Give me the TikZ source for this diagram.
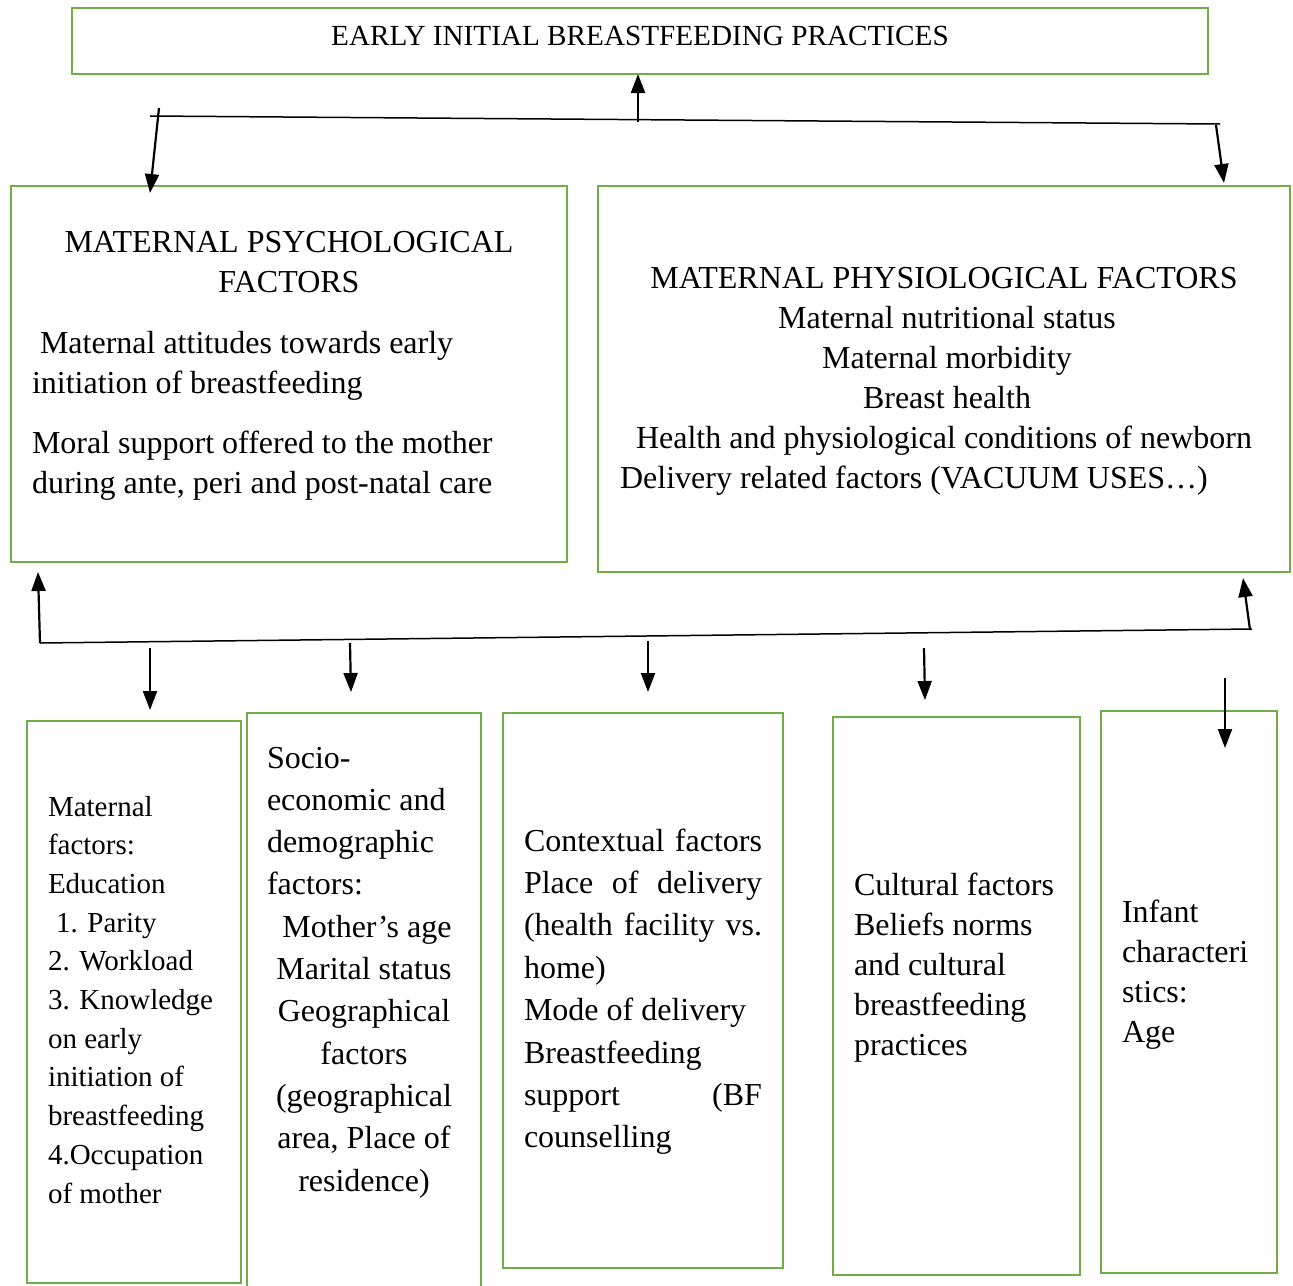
\documentclass[tikz,border=0pt]{standalone}
\usepackage{fontspec}
\setmainfont{Liberation Serif}
\usetikzlibrary{arrows.meta}
\definecolor{boxgreen}{RGB}{112,173,71}
\begin{document}
\begin{tikzpicture}[x=1pt,y=-1pt,
  box/.style={draw=boxgreen,line width=2.8pt,rectangle,inner sep=0pt,outer sep=0pt},
  txt/.style={anchor=base west,inner sep=0pt,outer sep=0pt},
  arr/.style={line width=2.2pt,-{Triangle[length=19pt,width=14pt]}},
  bar/.style={line width=1.5pt}]
\clip (0,0) rectangle (1293,1285);
\fill[white] (0,0) rectangle (1293,1285);

% boxes
\node[box,minimum width=1136pt,minimum height=66pt] (top) at (640,41) {};
\node[box,minimum width=556pt,minimum height=376pt] (psych) at (289,374) {};
\node[box,minimum width=692pt,minimum height=386pt] (physio) at (944,379) {};
\node[box,minimum width=214pt,minimum height=562pt] (b1) at (134,1002) {};
\node[box,minimum width=234pt,minimum height=579pt] (b2) at (364,1002.5) {};
\node[box,minimum width=280pt,minimum height=555pt] (b3) at (643,990.5) {};
\node[box,minimum width=247pt,minimum height=558pt] (b4) at (956.5,996) {};
\node[box,minimum width=176pt,minimum height=562pt] (b5) at (1189,992) {};

% texts
\node[anchor=base,inner sep=0pt] (ttop) at (640,45.5) {\fontsize{29.2}{35}\selectfont EARLY INITIAL BREASTFEEDING PRACTICES};

\node[txt] (tpsych) at (32,252) {\parbox[t]{514pt}{\fontsize{32}{40}\selectfont\raggedright
\makebox[\linewidth]{MATERNAL PSYCHOLOGICAL}\\
\makebox[\linewidth]{FACTORS}\\[21pt]
\hspace*{8pt}Maternal attitudes towards early\\
initiation of breastfeeding\\[20pt]
Moral support offered to the mother\\
during ante, peri and post-natal care}};

\node[txt] (tphysio) at (598,288) {\parbox[t]{692pt}{\fontsize{32}{40}\selectfont\raggedright
\makebox[\linewidth]{MATERNAL PHYSIOLOGICAL FACTORS}\\
\makebox[\linewidth]{Maternal nutritional status\hspace*{-6pt}}\\
\makebox[\linewidth]{Maternal morbidity\hspace*{-6pt}}\\
\makebox[\linewidth]{Breast health\hspace*{-6pt}}\\
\makebox[\linewidth]{Health and physiological conditions of newborn}\\
\makebox[\linewidth]{Delivery related factors (VACUUM USES…)\hspace*{60pt}}}};

\node[txt] (tb1) at (48,816) {\parbox[t]{190pt}{\fontsize{29}{38.7}\selectfont\raggedright
Maternal\\
factors:\\
Education\\
\hspace*{8pt}1. Parity\\
2. Workload\\
3. Knowledge\\
on early\\
initiation of\\
breastfeeding\\
4.Occupation\\
of mother}};

\node[txt] (tb2) at (267,768) {\parbox[t]{194pt}{\fontsize{32}{42.3}\selectfont\raggedright
Socio-\\
economic and\\
demographic\\
factors:\\
\makebox[\linewidth]{\hspace*{6pt}Mother’s age}\\
\makebox[\linewidth]{Marital status}\\
\makebox[\linewidth]{Geographical}\\
\makebox[\linewidth]{factors}\\
\makebox[\linewidth]{(geographical}\\
\makebox[\linewidth]{area, Place of}\\
\makebox[\linewidth]{residence)}}};

\node[txt] (tb3) at (524,851) {\parbox[t]{238pt}{\fontsize{32}{42.4}\selectfont\raggedright
\makebox[\linewidth][s]{Contextual factors}\\
\makebox[\linewidth][s]{Place of delivery}\\
\makebox[\linewidth][s]{(health facility vs.}\\
home)\\
Mode of delivery\\
Breastfeeding\\
\makebox[\linewidth][s]{support (BF}\\
counselling}};

\node[txt] (tb4) at (854,895) {\parbox[t]{220pt}{\fontsize{32}{40}\selectfont\raggedright
Cultural factors\\
Beliefs norms\\
and cultural\\
breastfeeding\\
practices}};

\node[txt] (tb5) at (1122,922) {\parbox[t]{150pt}{\fontsize{32}{40}\selectfont\raggedright
Infant\\
characteri\\
stics:\\
Age}};

% upper connector bar
\coordinate (tbL) at (150,116);
\coordinate (tbR) at (1220,124);
\draw[bar] (tbL) -- (tbR);
\coordinate (upS) at (638,122);
\draw[arr] (upS) -- (top.south -| upS);
\coordinate (dlS) at (159,108);
\coordinate (dlE) at (150,193);
\draw[arr] (dlS) -- (dlE);
\coordinate (drS) at (1216,125);
\coordinate (drE) at (1224,183);
\draw[arr] (drS) -- (drE);

% lower connector bar
\coordinate (lbL) at (40,643);
\coordinate (lbR) at (1252,629);
\draw[bar] (lbL) -- (lbR);
\coordinate (ulE) at (38,572);
\draw[arr] (lbL) -- (ulE);
\coordinate (urS) at (1250,630);
\coordinate (urE) at (1243,578);
\draw[arr] (urS) -- (urE);

\coordinate (d1S) at (150,648);  \coordinate (d1E) at (150,710);
\coordinate (d2S) at (350,643);  \coordinate (d2E) at (351,692);
\coordinate (d3S) at (648,641);  \coordinate (d3E) at (648,692);
\coordinate (d4S) at (924,648);  \coordinate (d4E) at (925,700);
\coordinate (d5S) at (1225,678); \coordinate (d5E) at (1225,748);
\draw[arr] (d1S) -- (d1E);
\draw[arr] (d2S) -- (d2E);
\draw[arr] (d3S) -- (d3E);
\draw[arr] (d4S) -- (d4E);
\draw[arr] (d5S) -- (d5E);
\end{tikzpicture}
\end{document}
